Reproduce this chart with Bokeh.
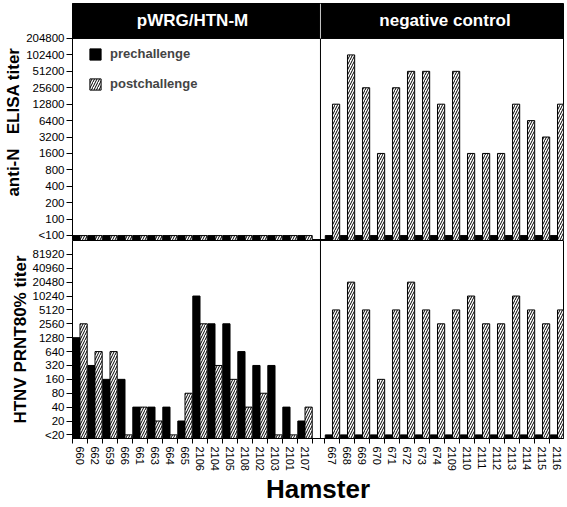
import numpy as np
from bokeh.plotting import figure
from bokeh.models import ColumnDataSource, FixedTicker, Range1d, Span, Legend, LegendItem
from bokeh.layouts import column
from bokeh.core.properties import value
from bokeh.embed import file_html
from bokeh.resources import INLINE

# ---------------- data ----------------
groups = ["pWRG/HTN-M", "negative control"]
hamsters_vacc = ["660", "662", "659", "666", "661", "663", "664", "665",
                 "2106", "2104", "2105", "2108", "2102", "2103", "2101", "2107"]
hamsters_ctrl = ["667", "668", "669", "670", "671", "672", "673", "674",
                 "2109", "2110", "2111", "2112", "2113", "2114", "2115", "2116"]

elisa_ticks = ["<100", "100", "200", "400", "800", "1600", "3200", "6400",
               "12800", "25600", "51200", "102400", "204800"]
prnt_ticks = ["<20", "20", "40", "80", "160", "320", "640", "1280", "2560",
              "5120", "10240", "20480", "40960", "81920"]

# 0 = below detection limit ("<100" / "<20")
elisa_pre_vacc = [0] * 16
elisa_post_vacc = [0] * 16
elisa_pre_ctrl = [0] * 16
elisa_post_ctrl = [12800, 102400, 25600, 1600, 25600, 51200, 51200, 12800,
                   51200, 1600, 1600, 1600, 12800, 6400, 3200, 12800]

prnt_pre_vacc = [1280, 320, 160, 160, 40, 40, 40, 20,
                 10240, 2560, 2560, 640, 320, 320, 40, 20]
prnt_post_vacc = [2560, 640, 640, 0, 40, 20, 0, 80,
                  2560, 320, 160, 40, 80, 0, 0, 40]
prnt_pre_ctrl = [0] * 16
prnt_post_ctrl = [5120, 20480, 5120, 160, 5120, 20480, 5120, 2560,
                  5120, 10240, 2560, 2560, 10240, 5120, 2560, 5120]

ELISA_BASE = 100
PRNT_BASE = 20

# ---------------- layout constants ----------------
FONT = "Liberation Sans"
W = 566
LEFT = 72
GROUP_OFFSET = 16.83
DIVIDER = 16.03
BAR_W = 0.48
TOP_BASE = -0.3
BOT_BASE = -0.26


def to_level(vals, base):
    return [0 if v == 0 else int(round(np.log2(v / base))) + 1 for v in vals]


n = len(hamsters_vacc)
x_vacc = [float(i) for i in range(n)]
x_ctrl = [round(GROUP_OFFSET + j, 2) for j in range(len(hamsters_ctrl))]
x_all = x_vacc + x_ctrl
names_all = hamsters_vacc + hamsters_ctrl
bounds = [i - 0.5 for i in range(n + 1)] + [round(GROUP_OFFSET + j - 0.5, 2) for j in range(len(hamsters_ctrl) + 1)]

xr = Range1d(-0.5, 32.23)


def overrides(keys, labels):
    d = {}
    for k, lab in zip(keys, labels):
        d[k] = lab
        d[str(k)] = lab
    return d


def style_common(p):
    p.xgrid.visible = False
    p.ygrid.visible = False
    p.outline_line_color = "black"
    p.outline_line_width = 1
    p.background_fill_color = "white"
    p.border_fill_color = "white"


def style_yaxis(ax, labels, title):
    ax.ticker = FixedTicker(ticks=list(range(len(labels))), minor_ticks=[])
    ax.major_label_overrides = overrides(list(range(len(labels))), labels)
    ax.major_label_text_font = FONT
    ax.major_label_text_font_size = "11.5px"
    ax.major_label_text_color = "black"
    ax.major_label_standoff = 2
    ax.major_tick_out = 6
    ax.major_tick_in = 0
    ax.minor_tick_out = 0
    ax.axis_line_color = "black"
    ax.major_tick_line_color = "black"
    ax.axis_label = title
    ax.axis_label_text_font = FONT
    ax.axis_label_text_font_style = "bold"
    ax.axis_label_text_font_size = "17px"
    ax.axis_label_text_color = "black"
    ax.axis_label_standoff = 0


pre_style = dict(fill_color="black", line_color="black", line_width=1)
post_style = dict(fill_color="white", line_color="black", line_width=1,
                  hatch_pattern="/", hatch_color="black", hatch_scale=5, hatch_weight=1)

# ---------------- top panel (ELISA) ----------------
TOP_H = 240
top_y_max = 14.13
ptop = figure(width=W, height=TOP_H, x_range=xr, y_range=Range1d(TOP_BASE, top_y_max),
              output_backend="svg", toolbar_location=None, x_axis_location=None,
              min_border_left=LEFT, min_border_right=3, min_border_top=3, min_border_bottom=0)
style_common(ptop)
style_yaxis(ptop.yaxis[0], elisa_ticks, "anti-N\u00a0\u00a0 ELISA titer")

ptop.add_layout(Span(location=DIVIDER, dimension="height", line_color="black", line_width=1, level="underlay"))

src_top_pre = ColumnDataSource(dict(x=[v - BAR_W / 2 for v in x_all],
                                    top=to_level(elisa_pre_vacc + elisa_pre_ctrl, ELISA_BASE)))
src_top_post = ColumnDataSource(dict(x=[v + BAR_W / 2 for v in x_all],
                                     top=to_level(elisa_post_vacc + elisa_post_ctrl, ELISA_BASE)))
r_pre = ptop.vbar(x="x", top="top", bottom=TOP_BASE, width=BAR_W, source=src_top_pre, **pre_style)
r_post = ptop.vbar(x="x", top="top", bottom=TOP_BASE, width=BAR_W, source=src_top_post, **post_style)

# header band with group names
hdr_bottom = len(elisa_ticks) - 1
ptop.quad(left=[xr.start], right=[xr.end], bottom=[hdr_bottom], top=[top_y_max],
          fill_color="black", line_color="black")
ptop.segment(x0=[DIVIDER], y0=[hdr_bottom], x1=[DIVIDER], y1=[top_y_max],
             line_color="#c8c8c8", line_width=1)
ptop.text(x=[float(np.mean(x_vacc)), float(np.mean(x_ctrl))],
          y=[(hdr_bottom + top_y_max) / 2] * 2, text=groups,
          text_color="white", text_font=value(FONT), text_font_style="bold",
          text_font_size="17px", text_align="center", text_baseline="middle")

leg = Legend(items=[LegendItem(label="prechallenge", renderers=[r_pre]),
                    LegendItem(label="postchallenge", renderers=[r_post])],
             location=(16, 149), glyph_width=14, glyph_height=14, label_height=14,
             spacing=15, padding=0, margin=0, border_line_color=None,
             background_fill_alpha=0, label_text_font=FONT, label_text_font_style="bold",
             label_text_font_size="13px", label_standoff=8)
ptop.add_layout(leg)

# ---------------- bottom panel (PRNT) ----------------
BOT_H = 266
pbot = figure(width=W, height=BOT_H, x_range=xr, y_range=Range1d(BOT_BASE, 14.0),
              output_backend="svg", toolbar_location=None,
              min_border_left=LEFT, min_border_right=3, min_border_top=0, min_border_bottom=0)
style_common(pbot)
style_yaxis(pbot.yaxis[0], prnt_ticks, "HTNV PRNT80% titer")

pbot.add_layout(Span(location=DIVIDER, dimension="height", line_color="black", line_width=1, level="underlay"))

src_bot_pre = ColumnDataSource(dict(x=[v - BAR_W / 2 for v in x_all],
                                    top=to_level(prnt_pre_vacc + prnt_pre_ctrl, PRNT_BASE)))
src_bot_post = ColumnDataSource(dict(x=[v + BAR_W / 2 for v in x_all],
                                     top=to_level(prnt_post_vacc + prnt_post_ctrl, PRNT_BASE)))
pbot.vbar(x="x", top="top", bottom=BOT_BASE, width=BAR_W, source=src_bot_pre, **pre_style)
pbot.vbar(x="x", top="top", bottom=BOT_BASE, width=BAR_W, source=src_bot_post, **post_style)

xa = pbot.xaxis[0]
xa.ticker = FixedTicker(ticks=x_all, minor_ticks=bounds)
xa.major_label_overrides = overrides(x_all, names_all)
xa.major_label_orientation = "vertical"
xa.major_label_text_font = FONT
xa.major_label_text_font_size = "11px"
xa.major_label_text_color = "black"
xa.major_label_standoff = 3
xa.major_tick_out = 0
xa.major_tick_in = 0
xa.minor_tick_out = 5
xa.minor_tick_in = 0
xa.minor_tick_line_color = "black"
xa.axis_line_color = "black"
xa.axis_label = "Hamster"
xa.axis_label_text_font = FONT
xa.axis_label_text_font_style = "bold"
xa.axis_label_text_font_size = "26px"
xa.axis_label_text_color = "black"
xa.axis_label_standoff = 0

layout = column(ptop, pbot, spacing=0)
open("out.html", "w").write(file_html(layout, INLINE))
